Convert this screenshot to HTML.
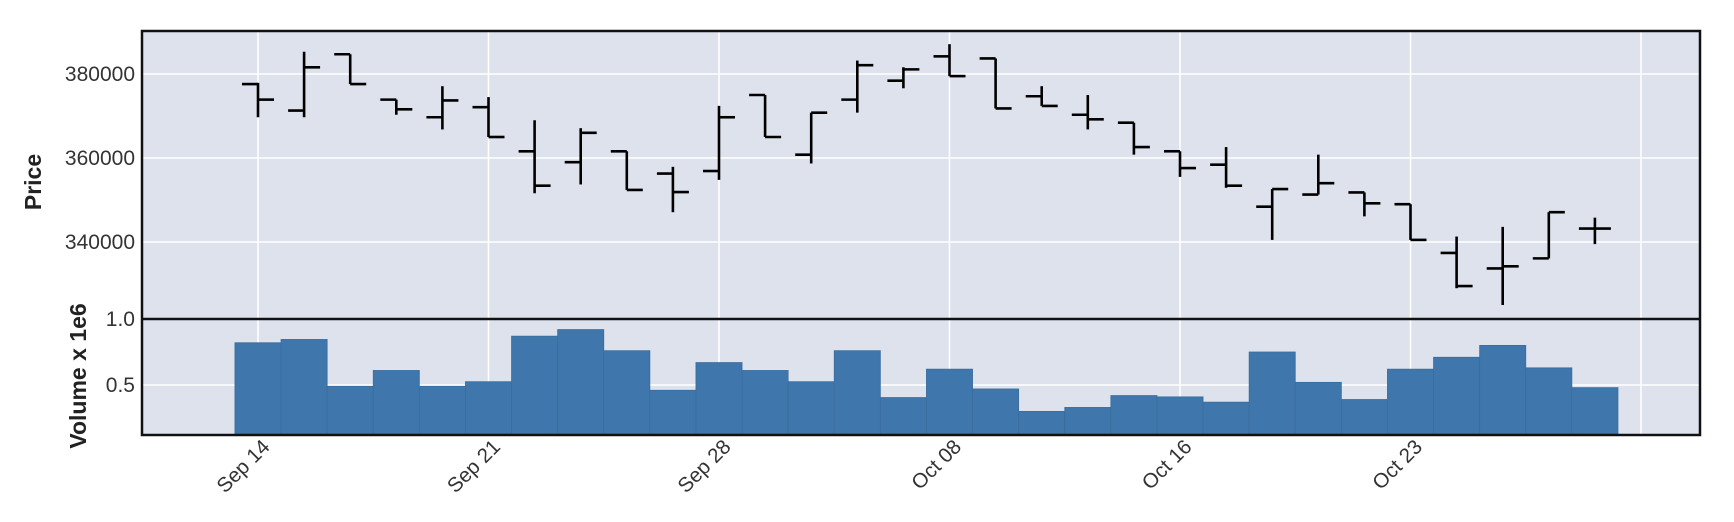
<!DOCTYPE html>
<html><head><meta charset="utf-8"><style>
html,body{margin:0;padding:0;background:#fff;}
svg{display:block;font-family:"Liberation Sans",sans-serif;}
</style></head><body>
<svg id="chart" width="1734" height="522" viewBox="0 0 1734 522" xmlns="http://www.w3.org/2000/svg">
<rect x="142" y="31" width="1558" height="288" fill="#dde2ed"/>
<rect x="142" y="319" width="1558" height="116" fill="#dde2ed"/>
<g id="grid"></g>
<g id="vol"></g>
<g id="ohlc"></g>
<g id="labels"></g>
<rect x="142" y="31" width="1558" height="404" fill="none" stroke="#111" stroke-width="2.5"/>
<line x1="142" y1="319" x2="1700" y2="319" stroke="#111" stroke-width="2.5"/>
<text transform="translate(41,182) rotate(-90)" text-anchor="middle" font-size="23" font-weight="bold" fill="#222">Price</text>
<text transform="translate(86,376) rotate(-90)" text-anchor="middle" font-size="23" font-weight="bold" fill="#222">Volume x 1e6</text>
</svg>
<script>
const opens=[377.6,371.3,384.7,373.9,369.7,372.1,361.6,359.0,361.6,356.3,356.9,375.0,360.8,373.9,378.4,384.2,383.7,374.7,370.3,368.4,361.6,358.4,348.4,351.3,351.8,349.0,337.4,333.7,336.1,343.2];
const highs=[377.9,385.3,384.7,373.9,377.1,374.5,369.0,367.1,361.6,357.9,372.4,375.0,370.8,383.2,381.6,387.1,383.7,377.1,375.0,368.4,361.6,362.6,352.6,360.8,351.8,349.0,341.3,343.6,347.1,345.8];
const lows=[369.7,369.7,377.6,370.3,366.8,365.0,351.6,353.7,352.4,347.1,354.8,365.0,358.7,370.8,376.6,379.5,371.8,372.4,366.8,360.8,355.5,352.9,340.5,351.3,346.1,340.5,329.0,325.0,336.1,339.5];
const closes=[373.9,381.6,377.6,371.6,373.7,365.0,353.4,366.0,352.4,351.9,369.7,365.0,370.8,382.1,381.1,379.5,371.8,372.4,369.2,362.6,357.6,353.4,352.6,354.0,349.2,340.5,329.5,334.2,347.1,343.2];
const volumes=[0.82,0.845,0.49,0.61,0.49,0.525,0.87,0.92,0.76,0.46,0.67,0.61,0.525,0.76,0.405,0.62,0.47,0.30,0.33,0.42,0.41,0.37,0.75,0.52,0.39,0.62,0.71,0.80,0.63,0.48];
const priceTicks=[340000,360000,380000];
const volTicks=[0.5,1.0];
const dateLabels=["Sep 14","Sep 21","Sep 28","Oct 08","Oct 16","Oct 23",""];
const dateIdx=[0,5,10,15,20,25,30];

const NS="http://www.w3.org/2000/svg";
const X=i=>258+i*46.1;
const PY=v=>74+(380-v)*4.2;
const VY=v=>451-v*132;
function mk(tag,attrs,parent){const e=document.createElementNS(NS,tag);for(const k in attrs)e.setAttribute(k,attrs[k]);parent.appendChild(e);return e;}
const grid=document.getElementById('grid'),vol=document.getElementById('vol'),ohlc=document.getElementById('ohlc'),labels=document.getElementById('labels');

dateIdx.forEach((d,k)=>{
  const x=X(d);
  const g=mk('line',{x1:x,y1:31,x2:x,y2:435,stroke:'#fff','stroke-width':1.6},grid);
  
  
  if(dateLabels[k]){
    const t=mk('text',{transform:`translate(${x+13},${448}) rotate(-45)`,'text-anchor':'end','font-size':20.5,fill:'#333'},labels);
    t.textContent=dateLabels[k];
    
    
  }
});
priceTicks.forEach(p=>{
  const y=PY(p/1000);
  const g=mk('line',{x1:142,y1:y,x2:1700,y2:y,stroke:'#fff','stroke-width':1.6},grid);
  
  
  const t=mk('text',{x:135,y:y+7,'text-anchor':'end','font-size':21,fill:'#333'},labels);
  t.textContent=String(p);
  
  
});
volTicks.forEach(v=>{
  const y=VY(v);
  const g=mk('line',{x1:142,y1:y,x2:1700,y2:y,stroke:'#fff','stroke-width':1.6},grid);
  
  
  const t=mk('text',{x:135,y:y+7,'text-anchor':'end','font-size':21,fill:'#333'},labels);
  t.textContent=v.toFixed(1);
  
  
});
volumes.forEach((v,i)=>{
  const x=X(i)-23.05,y=Math.max(VY(v),320);
  const r=mk('rect',{x:x,y:y,width:46.1,height:435-y,fill:'#3f76ab',stroke:'#3a6d9e','stroke-width':0.8},vol);
  
  
});
opens.forEach((o,i)=>{
  const x=X(i);
  const g=mk('g',{stroke:'#000','stroke-width':2.6,fill:'none'},ohlc);
  
  
  mk('line',{x1:x,y1:PY(highs[i]),x2:x,y2:PY(lows[i])},g);
  mk('line',{x1:x-16,y1:PY(o),x2:x,y2:PY(o)},g);
  mk('line',{x1:x,y1:PY(closes[i]),x2:x+16,y2:PY(closes[i])},g);
});
</script>
</body></html>
